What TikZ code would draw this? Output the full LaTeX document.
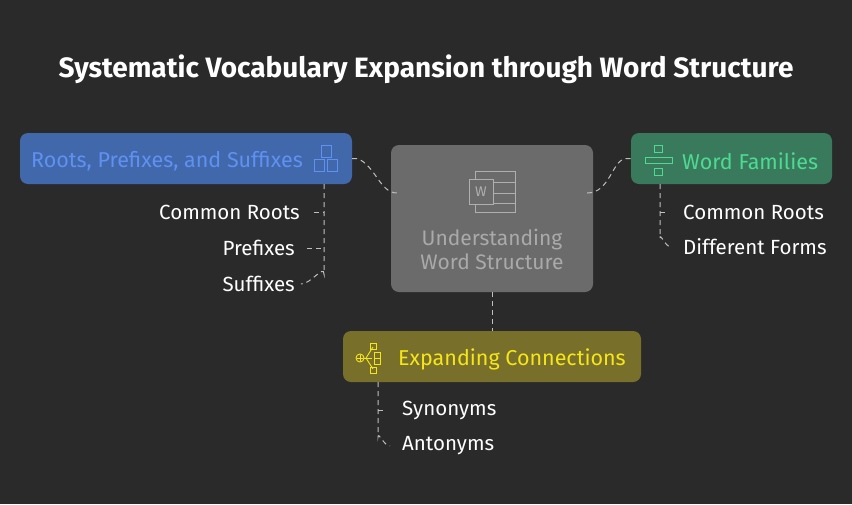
\documentclass[tikz,border=0pt]{standalone}
\usepackage{fontspec}
\setmainfont{Fira Sans}
\begin{document}
\begin{tikzpicture}[x=1pt,y=-1pt,
 box/.style={rounded corners=8pt,inner sep=0pt},
 conn/.style={draw=white!75!black,dashed,dash pattern=on 5pt off 4pt,line width=1pt},
 lbl/.style={text=white,font=\fontsize{20.5}{22}\selectfont,inner sep=0pt},
 head/.style={font=\fontsize{21.5}{24}\selectfont,inner sep=0pt}]
\definecolor{bg}{HTML}{2A2A2A}
\fill[bg] (0,0) rectangle (852,504);
\useasboundingbox (0,0) rectangle (852,504);
\node[text=white,font=\bfseries\fontsize{28}{30}\selectfont] (title) at (426,69) {Systematic Vocabulary Expansion through Word Structure};
% boxes
\node[box,fill={rgb,255:red,66;green,104;blue,172},minimum width=332pt,minimum height=51pt] (blue) at (186,158.5) {};
\node[head,text={rgb,255:red,95;green,145;blue,240},anchor=east] (bluet) at (303,161) {Roots, Prefixes, and Suffixes};
\node[box,fill={rgb,255:red,107;green,107;blue,107},minimum width=202pt,minimum height=147pt] (center) at (492,218.5) {};
\node[text={rgb,255:red,170;green,170;blue,170},font=\fontsize{21}{24}\selectfont,align=center] (ct) at (492,249) {Understanding\\Word Structure};
\node[box,fill={rgb,255:red,58;green,122;blue,92},minimum width=201pt,minimum height=51pt] (green) at (731.5,158.5) {};
\node[head,text={rgb,255:red,77;green,219;blue,148},anchor=west] (greent) at (682,161) {Word Families};
\node[box,fill={rgb,255:red,120;green,112;blue,42},minimum width=298pt,minimum height=51pt] (yellow) at (492,356.5) {};
\node[head,text={rgb,255:red,245;green,230;blue,26},anchor=west] (yellowt) at (398,359) {Expanding Connections};
% icons
\begin{scope}[draw={rgb,255:red,95;green,145;blue,240},line width=0.9pt]
\draw (321,145) rectangle (331,157); \draw (314,159) rectangle (324,171); \draw (327,159) rectangle (337,171);
\end{scope}
\begin{scope}[draw={rgb,255:red,77;green,219;blue,148},line width=0.9pt]
\draw (645,157) rectangle (672,163); \draw (654,145) rectangle (662,152); \draw (654,168) rectangle (662,175);
\end{scope}
\begin{scope}[draw={rgb,255:red,175;green,175;blue,175},line width=1pt]
\draw (475,171) rectangle (515,212); \draw (475,182)--(515,182); \draw (475,193)--(515,193); \draw (475,203)--(515,203);
\draw[fill={rgb,255:red,107;green,107;blue,107}] (469,179) rectangle (493,204);
\node[text={rgb,255:red,175;green,175;blue,175},font=\fontsize{14}{14}\selectfont] (wl) at (481,192) {W};
\end{scope}
\begin{scope}[draw={rgb,255:red,245;green,230;blue,26},line width=0.9pt]
\draw (360,358) circle (4pt); \draw (357,358)--(363,358); \draw (360,355)--(360,361);
\draw (364,358)--(372,358); \draw (366,358)--(373,347); \draw (366,358)--(373,369);
\draw (370,343) rectangle (376,349); \draw (370,367) rectangle (376,373);
\draw (374,352) rectangle (380,358); \draw (374,358) rectangle (380,364);
\end{scope}
% children
\node[lbl,anchor=east] (l1) at (300,212) {Common Roots};
\node[lbl,anchor=east] (l2) at (295,248) {Prefixes};
\node[lbl,anchor=east] (l3) at (295,284) {Suffixes};
\node[lbl,anchor=west] (r1) at (683,212) {Common Roots};
\node[lbl,anchor=west] (r2) at (683,247) {Different Forms};
\node[lbl,anchor=west] (y1) at (402,410) {Synonyms};
\node[lbl,anchor=west] (y2) at (402,446) {Antonyms};
\coordinate (bl) at (324,184); \coordinate (gl) at (660,184); \coordinate (yl) at (378,382);
\draw[conn] (bl) -- (324,274) to[out=90,in=0] ([xshift=6pt]l3.east);
\draw[conn] (l1.east)++(14pt,0) -- (324,212);
\draw[conn] ([xshift=12pt]l2.east) -- (324,248);
\draw[conn] (gl) -- (660,238) to[out=90,in=180] ([xshift=-12pt]r2.west);
\draw[conn] (660,212) -- ([xshift=-17pt]r1.west);
\draw[conn] (yl) -- (378,437) to[out=90,in=180] ([xshift=-12pt]y2.west);
\draw[conn] (378,410) -- ([xshift=-17pt]y1.west);
\draw[conn] (blue.east) -- ++(5pt,0) .. controls (375,165) and (380,193) .. ([xshift=6pt]center.west |- 0,193);
\draw[conn] ([xshift=-6pt]center.east |- 0,193) .. controls (610,193) and (612,160) .. ([xshift=-5pt]green.west) -- (green.west);
\draw[conn] (center.south) -- (yellow.north);
\end{tikzpicture}
\end{document}
